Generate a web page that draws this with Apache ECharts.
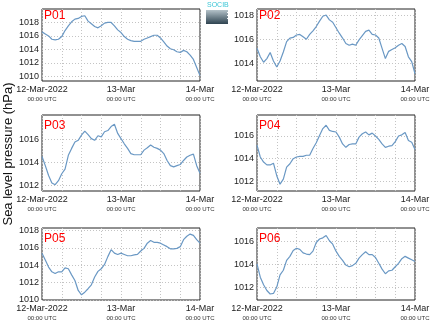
<!DOCTYPE html>
<html>
<head>
<meta charset="utf-8">
<script src="https://cdn.jsdelivr.net/npm/echarts@6/dist/echarts.min.js"></script>
<style>
  html, body { margin: 0; padding: 0; background: #fff; }
  #chart { width: 434px; height: 327px; }
</style>
</head>
<body>
<div id="chart"></div>
<script>
// Hourly sea level pressure (hPa), 12-Mar-2022 00:00 UTC to 14-Mar-2022 00:00 UTC
const stations = ['P01', 'P02', 'P03', 'P04', 'P05', 'P06'];

const p01 = [1016.6, 1016.3, 1016.0, 1015.5, 1015.4, 1015.5, 1015.9, 1016.8, 1017.5, 1018.1,
  1018.5, 1018.6, 1018.9, 1019.0, 1018.2, 1017.8, 1017.4, 1017.2, 1017.5, 1017.9,
  1018.0, 1018.0, 1017.5, 1016.9, 1016.5, 1015.9, 1015.5, 1015.3, 1015.2, 1015.2,
  1015.2, 1015.5, 1015.7, 1015.9, 1016.1, 1016.1, 1015.7, 1015.1, 1014.5, 1014.1,
  1013.95, 1013.65, 1013.55, 1013.85, 1013.65, 1013.15, 1012.5, 1011.3, 1010.1];

const p02 = [1015.25, 1014.55, 1014.1, 1014.4, 1014.9, 1014.2, 1013.7, 1014.2, 1014.95, 1015.8,
  1016.1, 1016.15, 1016.35, 1016.4, 1016.2, 1016.0, 1016.4, 1016.7, 1017.05, 1017.5,
  1017.9, 1018.0, 1017.6, 1017.4, 1016.95, 1016.5, 1016.1, 1015.65, 1015.5, 1015.6,
  1015.5, 1015.95, 1016.3, 1016.65, 1016.75, 1016.4, 1016.35, 1016.1, 1015.25, 1014.4,
  1015.0, 1015.15, 1015.3, 1015.5, 1015.65, 1015.4, 1014.55, 1014.15, 1013.15];

const p03 = [1014.5, 1013.7, 1012.85, 1012.2, 1012.05, 1012.4, 1013.0, 1013.4, 1014.6, 1015.2,
  1015.75, 1015.9, 1016.35, 1016.7, 1016.4, 1016.05, 1015.9, 1016.3, 1016.2, 1016.65,
  1016.75, 1017.1, 1017.3, 1016.5, 1016.05, 1015.6, 1015.2, 1014.75, 1014.65, 1014.65,
  1014.65, 1015.05, 1015.25, 1015.5, 1015.3, 1015.2, 1015.05, 1014.75, 1014.15, 1013.7,
  1013.6, 1013.7, 1013.8, 1014.15, 1014.45, 1014.6, 1014.7, 1013.7, 1013.05];

const p04 = [1015.2, 1014.15, 1013.7, 1013.45, 1013.45, 1013.6, 1012.5, 1011.75, 1012.2, 1013.25,
  1013.55, 1014.0, 1014.15, 1014.2, 1014.2, 1014.3, 1014.3, 1014.9, 1015.4, 1016.05,
  1016.65, 1016.95, 1016.5, 1016.4, 1016.35, 1015.9, 1015.3, 1015.0, 1015.25, 1015.3,
  1015.3, 1015.9, 1016.2, 1016.35, 1016.1, 1016.25, 1016.0, 1015.7, 1015.3, 1015.0,
  1015.1, 1015.15, 1015.5, 1016.0, 1016.1, 1016.3, 1015.6, 1015.45, 1014.8];

const p05 = [1015.4, 1014.6, 1013.8, 1013.25, 1013.05, 1013.25, 1013.25, 1013.7, 1013.6, 1012.9,
  1012.25, 1011.1, 1010.6, 1010.9, 1011.3, 1011.75, 1012.65, 1013.3, 1013.6, 1014.1,
  1015.0, 1015.8, 1015.4, 1015.25, 1015.4, 1015.25, 1015.1, 1015.1, 1015.2, 1015.25,
  1015.65, 1015.95, 1016.55, 1016.85, 1016.65, 1016.65, 1016.55, 1016.35, 1016.15, 1015.9,
  1015.9, 1015.95, 1016.15, 1016.95, 1017.35, 1017.6, 1017.45, 1016.95, 1016.55];

const p06 = [1014.05, 1012.9, 1012.25, 1011.75, 1011.45, 1011.5, 1012.05, 1013.1, 1013.5, 1014.35,
  1014.7, 1015.2, 1015.4, 1015.3, 1015.0, 1014.9, 1014.85, 1015.15, 1015.9, 1016.2,
  1016.3, 1016.5, 1016.05, 1015.75, 1015.15, 1014.7, 1014.35, 1013.95, 1013.8, 1013.9,
  1014.1, 1014.55, 1014.85, 1015.1, 1014.85, 1014.85, 1014.6, 1014.1, 1013.6, 1013.2,
  1013.45, 1013.5, 1013.8, 1014.1, 1014.5, 1014.7, 1014.55, 1014.4, 1014.25];

const seriesValues = [p01, p02, p03, p04, p05, p06];

// y-axis tick labels and extents for each panel
const yTicks = [
  [1010, 1012, 1014, 1016, 1018],
  [1014, 1016, 1018],
  [1012, 1014, 1016],
  [1012, 1014, 1016],
  [1010, 1012, 1014, 1016, 1018],
  [1012, 1014, 1016]
];
const yMin = [1009.3, 1012.55, 1011.5, 1011.15, 1010.0, 1010.93];
const yMax = [1020.0, 1018.5, 1018.1, 1017.85, 1018.3, 1017.15];

// x-axis: hours since 12-Mar-2022 00:00 UTC
const dayLabels = { 0: '12-Mar-2022', 24: '13-Mar', 48: '14-Mar' };
const timeLabel = '00:00 UTC';

// panel boxes (pixels)
const colLeft = [42, 257];
const panelWidth = 158;
const rowTop = [9, 115, 228];
const rowHeight = [72, 76, 72];

const FONT = 'Liberation Sans, Arial, sans-serif';
const lineColor = '#6a98c4';
const gridLineStyle = { color: '#c4c4c4', type: [1, 2], width: 1 };

const grids = [], xAxes = [], yAxes = [], series = [], titles = [];

stations.forEach((name, i) => {
  const col = i % 2, row = Math.floor(i / 2);
  const left = colLeft[col], top = rowTop[row];
  grids.push({
    left: left, top: top, width: panelWidth, height: rowHeight[row],
    show: true, borderColor: '#222', borderWidth: 1, backgroundColor: '#fff'
  });
  xAxes.push({
    type: 'value', gridIndex: i, min: 0, max: 48, interval: 6,
    axisLine: { show: false }, axisTick: { show: false },
    splitLine: { show: true, lineStyle: gridLineStyle },
    axisLabel: {
      margin: 3, color: '#222', fontFamily: FONT,
      showMinLabel: true, showMaxLabel: true,
      formatter: v => dayLabels[v] !== undefined ? '{a|' + dayLabels[v] + '}\n{b|' + timeLabel + '}' : '',
      rich: {
        a: { fontSize: 9, lineHeight: 11, fontFamily: FONT, color: '#222' },
        b: { fontSize: 6, lineHeight: 8, fontFamily: FONT, color: '#333' }
      }
    }
  });
  yAxes.push({
    type: 'value', gridIndex: i, min: yMin[i], max: yMax[i],
    axisLine: { show: false },
    axisTick: { show: false, customValues: yTicks[i] },
    splitLine: { show: true, lineStyle: gridLineStyle },
    axisLabel: {
      customValues: yTicks[i], margin: 3, fontSize: 9, color: '#222', fontFamily: FONT,
      formatter: v => String(Math.round(v))
    }
  });
  series.push({
    type: 'line', xAxisIndex: i, yAxisIndex: i, showSymbol: false, silent: true,
    lineStyle: { color: lineColor, width: 1.2 },
    data: seriesValues[i].map((v, h) => [h, v])
  });
  titles.push({
    text: name, left: left + 2, top: top + (row === 0 ? 1 : 5), padding: 0,
    textStyle: { color: '#f00', fontSize: 12, fontWeight: 'normal', fontFamily: FONT }
  });
});

const chart = echarts.init(document.getElementById('chart'), null, { renderer: 'canvas' });
chart.setOption({
  animation: false,
  backgroundColor: '#fff',
  title: titles,
  grid: grids,
  xAxis: xAxes,
  yAxis: yAxes,
  series: series,
  graphic: [
    {
      type: 'text', x: 8, y: 154, rotation: Math.PI / 2,
      style: {
        text: 'Sea level pressure (hPa)', fontSize: 13, fontFamily: FONT, fill: '#111',
        align: 'center', verticalAlign: 'middle'
      }
    },
    {
      type: 'group', x: 206, y: 2,
      children: [
        { type: 'text', x: 1, y: 0, style: { text: 'SOCIB', fontSize: 7, fontFamily: FONT, fill: '#3cc6d6' } },
        {
          type: 'rect', shape: { x: 0, y: 8, width: 22, height: 14 },
          style: {
            fill: new echarts.graphic.LinearGradient(0, 0, 0, 1, [
              { offset: 0, color: '#b4c2c9' },
              { offset: 1, color: '#2e4350' }
            ])
          }
        },
        { type: 'text', x: 17, y: 10, style: { text: '⋮', fontSize: 9, fontFamily: FONT, fill: '#fff' } }
      ]
    }
  ]
});
</script>
</body>
</html>
